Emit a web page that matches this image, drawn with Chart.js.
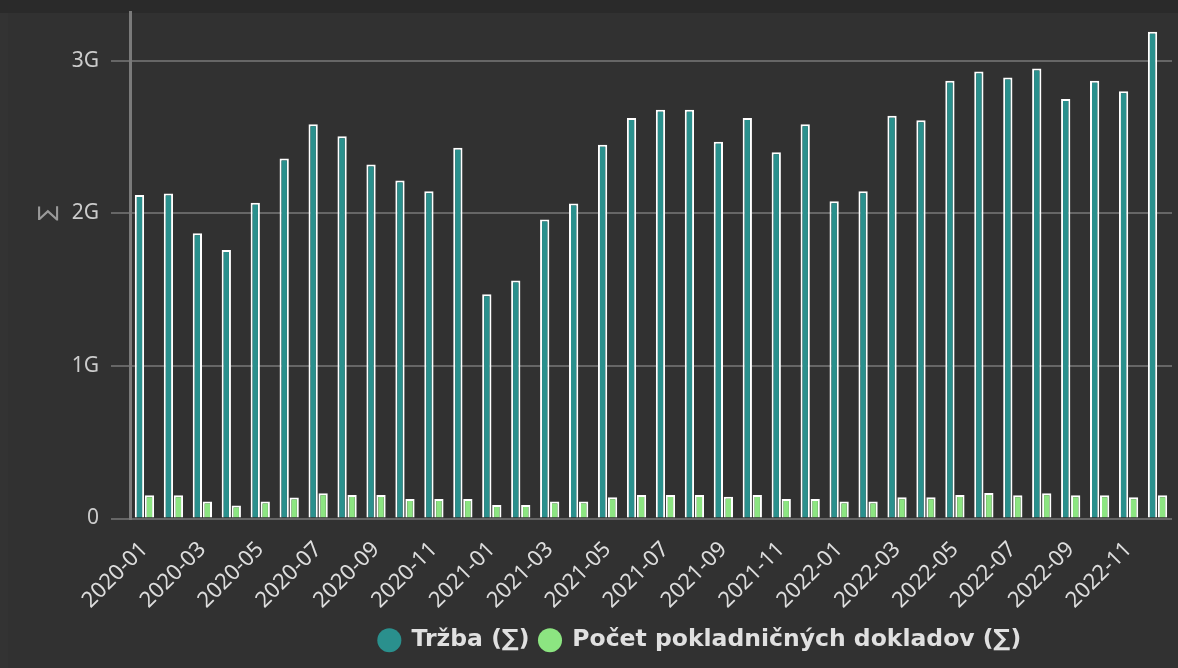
<!DOCTYPE html>
<html>
<head>
<meta charset="utf-8">
<script src="https://cdn.jsdelivr.net/npm/chart.js@4.4.1/dist/chart.umd.min.js"></script>
<style>
  html, body { margin: 0; padding: 0; background: #2a2a2a; overflow: hidden; }
  #wrap { width: 1178px; height: 668px; }
</style>
</head>
<body>
<div id="wrap"><canvas id="chart" width="1178" height="668"></canvas></div>
<script>
const months = [
  '2020-01','2020-02','2020-03','2020-04','2020-05','2020-06','2020-07','2020-08','2020-09','2020-10','2020-11','2020-12',
  '2021-01','2021-02','2021-03','2021-04','2021-05','2021-06','2021-07','2021-08','2021-09','2021-10','2021-11','2021-12',
  '2022-01','2022-02','2022-03','2022-04','2022-05','2022-06','2022-07','2022-08','2022-09','2022-10','2022-11','2022-12'
];
// Tržba (∑)
const trzba = [
  2.12e9, 2.13e9, 1.87e9, 1.76e9, 2.07e9, 2.36e9, 2.585e9, 2.505e9, 2.32e9, 2.215e9, 2.145e9, 2.43e9,
  1.47e9, 1.56e9, 1.96e9, 2.065e9, 2.45e9, 2.625e9, 2.68e9, 2.68e9, 2.47e9, 2.625e9, 2.40e9, 2.585e9,
  2.08e9, 2.145e9, 2.64e9, 2.61e9, 2.87e9, 2.93e9, 2.89e9, 2.95e9, 2.75e9, 2.87e9, 2.80e9, 3.19e9
];
// Počet pokladničných dokladov (∑)
const doklady = [
  0.152e9, 0.152e9, 0.112e9, 0.086e9, 0.112e9, 0.137e9, 0.165e9, 0.154e9, 0.154e9, 0.127e9, 0.127e9, 0.127e9,
  0.088e9, 0.088e9, 0.112e9, 0.112e9, 0.139e9, 0.154e9, 0.154e9, 0.154e9, 0.143e9, 0.154e9, 0.127e9, 0.127e9,
  0.112e9, 0.112e9, 0.139e9, 0.139e9, 0.154e9, 0.167e9, 0.152e9, 0.165e9, 0.152e9, 0.152e9, 0.139e9, 0.152e9
];
const yTicks = [0, 1e9, 2e9, 3e9];
const yMax = 3.32e9;

const teal = '#2a908d';
const green = '#8ce581';

const bgPlugin = {
    id: 'bg',
    beforeDraw(chart) {
        const c = chart.ctx;
        c.save();
        c.fillStyle = '#2a2a2a';
        c.fillRect(0, 0, chart.width, chart.height);
        c.fillStyle = '#333333';
        c.fillRect(0, 13, 8, chart.height - 13);
        c.fillStyle = '#313131';
        c.fillRect(8, 13, chart.width - 8, chart.height - 13);
        c.restore();
    }
};

// rotated sigma title of the value axis
const yTitlePlugin = {
    id: 'ytitle',
    afterDraw(chart) {
        const c = chart.ctx;
        c.save();
        c.translate(48, 213);
        c.rotate(-Math.PI / 2);
        c.font = '22px "DejaVu Sans"';
        c.fillStyle = '#9a9a9a';
        c.textAlign = 'center';
        c.textBaseline = 'middle';
        c.fillText('∑', 0, 0);
        c.restore();
    }
};

// legend in the original sits right of centre
const legendShift = {
    id: 'legendShift',
    afterLayout(chart) {
        chart.legend.left += 114;
        chart.legend.right += 114;
    }
};

const defaultLabels = Chart.defaults.plugins.legend.labels.generateLabels;

new Chart(document.getElementById('chart'), {
    type: 'bar',
    data: {
        labels: months,
        datasets: [{
            label: 'Tržba (∑)',
            data: trzba,
            backgroundColor: teal,
            borderColor: '#ffffff',
            borderWidth: 2,
            categoryPercentage: 0.69,
            barPercentage: 0.93
        }, {
            label: 'Počet pokladničných dokladov (∑)',
            data: doklady,
            backgroundColor: green,
            borderColor: '#ffffff',
            borderWidth: 2,
            categoryPercentage: 0.69,
            barPercentage: 0.93
        }]
    },
    options: {
        responsive: false,
        animation: false,
        layout: { padding: { top: 12, right: 6, bottom: 6, left: 0 } },
        scales: {
            x: {
                grid: { display: false },
                border: { display: false },
                ticks: {
                    autoSkip: false,
                    minRotation: 45,
                    maxRotation: 45,
                    color: '#dddddd',
                    font: { family: 'Noto Sans', size: 22 },
                    padding: 10,
                    callback: function(v, i) { return i % 2 === 0 ? months[i] : null; }
                },
                afterFit: function(scale) { scale.height = 100; }
            },
            y: {
                min: 0,
                max: yMax,
                afterBuildTicks: function(scale) { scale.ticks = yTicks.map(v => ({ value: v })); },
                grid: { color: '#666666', lineWidth: 2, tickLength: 19 },
                border: { color: '#7a7a7a', width: 3 },
                ticks: {
                    color: '#cccccc',
                    font: { family: 'Noto Sans', size: 21 },
                    padding: 12,
                    callback: function(v) { return v === 0 ? '0' : (v / 1e9) + 'G'; }
                },
                afterFit: function(scale) {
                    scale.width = 130;
                    scale.paddingTop = 0;
                    scale.paddingBottom = 0;
                }
            }
        },
        plugins: {
            tooltip: { enabled: false },
            legend: {
                position: 'bottom',
                labels: {
                    usePointStyle: true,
                    pointStyle: 'circle',
                    boxWidth: 21,
                    boxHeight: 17,
                    color: '#e0e0e0',
                    font: { family: 'DejaVu Sans', size: 23.5, weight: 'bold' },
                    padding: 10,
                    generateLabels: function(chart) {
                        return defaultLabels(chart).map(l => Object.assign(l, { lineWidth: 0, strokeStyle: l.fillStyle }));
                    }
                }
            }
        }
    },
    plugins: [bgPlugin, yTitlePlugin, legendShift]
});
</script>
</body>
</html>
